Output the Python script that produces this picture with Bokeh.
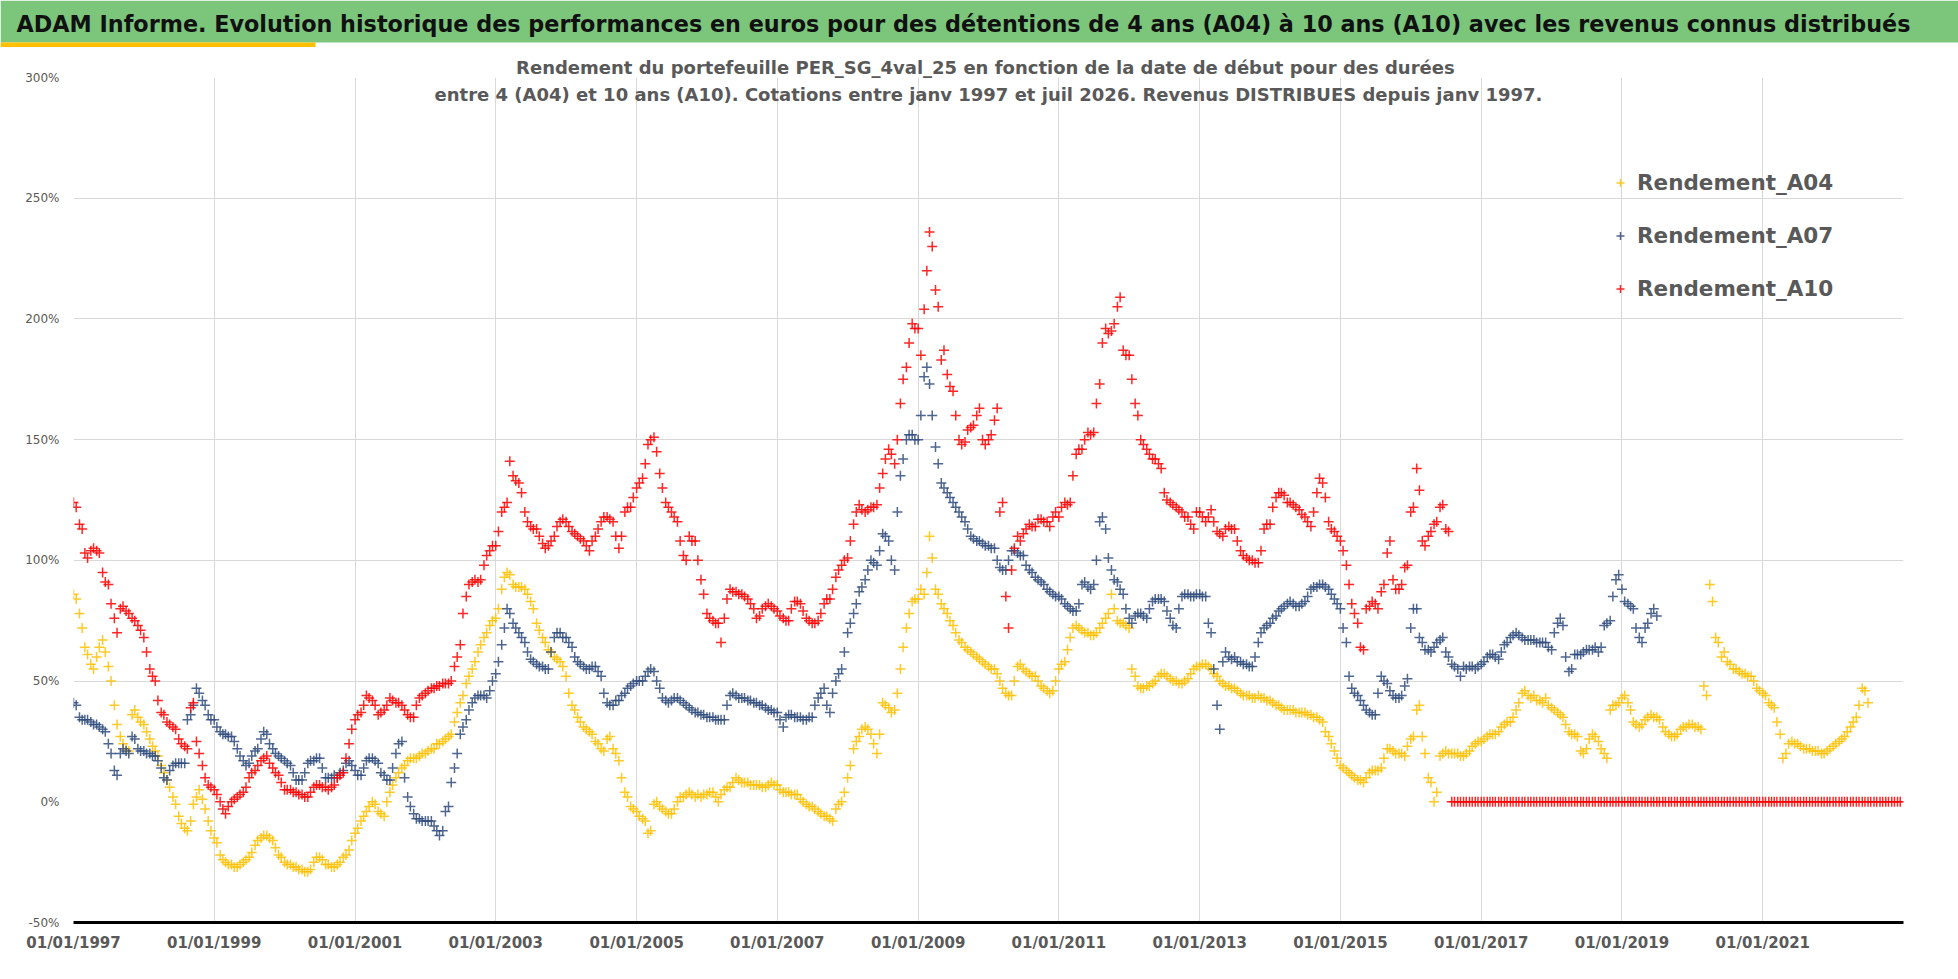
import pandas as pd
from bokeh.embed import file_html
from bokeh.layouts import column
from bokeh.models import (ColumnDataSource, FixedTicker, Label, Legend, LegendItem, Title,
                          PrintfTickFormatter, DatetimeTickFormatter, Range1d)
from bokeh.plotting import figure
from bokeh.resources import INLINE

TITLE = ("ADAM Informe. Evolution historique des performances en euros pour des détentions "
         "de 4 ans (A04) à 10 ans (A10) avec les revenus connus distribués")
SUBTITLE_1 = "Rendement du portefeuille PER_SG_4val_25  en fonction de la date de début pour des durées"
SUBTITLE_2 = ("entre 4 (A04) et 10 ans (A10). Cotations entre janv 1997 et juil 2026. "
              "Revenus DISTRIBUES depuis janv 1997.")

tick_dates = ["1997-01-01", "1999-01-01", "2001-01-01", "2003-01-01", "2005-01-01",
              "2007-01-01", "2009-01-01", "2011-01-01", "2013-01-01", "2015-01-01",
              "2017-01-01", "2019-01-01", "2021-01-01"]
tick_labels = ["01/01/1997", "01/01/1999", "01/01/2001", "01/01/2003", "01/01/2005",
               "01/01/2007", "01/01/2009", "01/01/2011", "01/01/2013", "01/01/2015",
               "01/01/2017", "01/01/2019", "01/01/2021"]
y_ticks = [-50, 0, 50, 100, 150, 200, 250, 300]

# returns in %, two readings per month (1st and 15th), starting january 1997
a04_start = "1997-01-01"
a04 = [
    86, 84, 78, 72, 64, 61, 57, 55, 60, 64, 67, 62, 56, 50, 40, 32, 27, 24, 22, 21, 36, 38, 35, 33,
    32, 29, 26, 23, 21, 19, 15, 12, 9, 6, 2, -1, -6, -9, -11, -12, -8, -1, 2, 5, 1, -3, -8, -12,
    -15, -17, -22, -24, -25, -26, -26, -27, -27, -26, -25, -24, -23, -21, -18, -16, -15, -14, -14, -15, -16, -19, -22, -23,
    -25, -26, -26, -27, -27, -28, -28, -29, -29, -28, -25, -23, -23, -24, -26, -26, -27, -27, -26, -25, -23, -22, -20, -16,
    -13, -11, -8, -6, -4, -2, 0, -1, -4, -5, -6, 0, 4, 7, 10, 12, 14, 15, 17, 18, 18, 18, 19, 20,
    20, 21, 22, 22, 24, 24, 25, 26, 27, 28, 33, 37, 41, 44, 49, 52, 55, 58, 62, 65, 68, 70, 73, 75,
    76, 80, 88, 93, 95, 94, 90, 89, 89, 89, 88, 86, 83, 80, 74, 71, 68, 66, 63, 62, 60, 59, 58, 56,
    52, 45, 40, 38, 35, 33, 31, 30, 29, 28, 25, 24, 22, 21, 26, 27, 22, 20, 17, 10, 4, 2, -2, -3,
    -4, -6, -7, -8, -13, -12, -1, 0, -2, -3, -4, -5, -5, -3, 0, 2, 2, 3, 4, 3, 2, 3, 2, 3,
    3, 4, 4, 2, 0, 3, 5, 6, 6, 8, 10, 9, 8, 8, 8, 7, 7, 7, 7, 6, 6, 7, 8, 7,
    7, 5, 4, 4, 4, 3, 3, 3, 1, 0, -1, -2, -2, -3, -4, -5, -6, -6, -7, -8, -3, -1, 0, 4,
    10, 15, 22, 25, 27, 30, 31, 30, 28, 24, 20, 28, 41, 40, 39, 37, 38, 45, 55, 64, 72, 78, 83, 84,
    84, 88, 86, 95, 110, 101, 88, 86, 82, 80, 78, 75, 73, 70, 67, 66, 64, 63, 62, 61, 60, 59, 58, 57,
    56, 55, 55, 53, 50, 47, 45, 44, 44, 50, 56, 57, 55, 54, 53, 52, 52, 50, 48, 47, 46, 45, 46, 50,
    55, 57, 58, 63, 68, 72, 73, 72, 71, 70, 70, 69, 69, 70, 72, 74, 76, 78, 86, 80, 75, 74, 74, 73,
    72, 55, 52, 48, 47, 47, 48, 48, 49, 50, 52, 53, 53, 52, 51, 50, 50, 49, 49, 50, 51, 53, 55, 56,
    56, 57, 57, 56, 55, 53, 52, 50, 49, 48, 48, 47, 47, 46, 45, 44, 44, 44, 43, 43, 44, 43, 43, 42,
    42, 41, 40, 40, 39, 38, 38, 38, 38, 37, 37, 37, 37, 36, 36, 35, 35, 34, 33, 29, 27, 24, 21, 18,
    15, 14, 13, 12, 11, 10, 9, 9, 8, 10, 12, 13, 13, 13, 14, 18, 22, 22, 21, 20, 20, 20, 19, 23,
    26, 27, 38, 40, 27, 20, 10, 8, 0, 4, 19, 20, 21, 20, 20, 20, 20, 19, 19, 20, 21, 23, 24, 25,
    25, 26, 27, 28, 28, 28, 29, 31, 32, 33, 33, 35, 38, 41, 45, 46, 44, 43, 44, 42, 42, 41, 43, 40,
    39, 38, 37, 36, 35, 32, 29, 28, 28, 27, 21, 20, 22, 26, 28, 27, 25, 22, 20, 18, 38, 40, 40, 41,
    43, 44, 41, 38, 33, 32, 31, 32, 34, 35, 36, 35, 35, 34, 31, 29, 28, 27, 27, 28, 30, 31, 31, 32,
    32, 31, 31, 30, 48, 44, 90, 83, 68, 66, 60, 62, 58, 57, 55, 55, 54, 53, 53, 52, 52, 50, 47, 46,
    45, 44, 41, 40, 39, 33, 28, 18, 20, 24, 25, 24, 24, 23, 22, 22, 22, 21, 21, 21, 20, 20, 21, 22,
    23, 24, 25, 26, 27, 29, 31, 33, 35, 40, 47, 46, 41,
]

a07_start = "1997-01-01"
a07 = [
    41, 40, 35, 34, 34, 34, 33, 32, 32, 31, 30, 29, 24, 20, 13, 11, 20, 22, 21, 20, 27, 26, 22, 21,
    21, 20, 20, 19, 19, 17, 14, 10, 9, 13, 15, 16, 16, 16, 16, 34, 36, 40, 47, 45, 42, 40, 36, 34,
    34, 31, 29, 28, 28, 27, 27, 25, 22, 19, 17, 15, 16, 19, 21, 22, 26, 29, 28, 24, 22, 20, 19, 18,
    17, 16, 15, 12, 9, 9, 9, 12, 16, 17, 17, 18, 18, 14, 10, 10, 10, 11, 10, 12, 13, 16, 17, 15,
    13, 11, 11, 14, 17, 18, 18, 17, 16, 12, 11, 9, 9, 14, 20, 24, 25, 10, 2, -2, -5, -7, -7, -8,
    -8, -8, -8, -10, -12, -14, -12, -4, -2, 8, 14, 20, 28, 31, 34, 38, 41, 43, 44, 44, 44, 43, 46, 50,
    53, 58, 65, 72, 80, 78, 74, 72, 70, 68, 66, 62, 59, 58, 57, 56, 56, 55, 55, 62, 68, 70, 70, 68,
    68, 66, 64, 60, 58, 57, 56, 55, 55, 56, 56, 54, 52, 45, 41, 40, 40, 42, 42, 44, 45, 47, 48, 49,
    50, 50, 50, 52, 54, 55, 54, 50, 47, 43, 42, 41, 42, 43, 43, 42, 41, 40, 39, 38, 37, 37, 36, 36,
    35, 35, 35, 34, 34, 34, 34, 40, 44, 45, 44, 43, 43, 43, 42, 42, 41, 41, 40, 40, 39, 38, 38, 37,
    37, 34, 31, 35, 36, 36, 35, 35, 35, 34, 34, 35, 35, 40, 43, 45, 47, 40, 37, 45, 50, 53, 55, 62,
    70, 74, 78, 82, 87, 89, 92, 96, 100, 99, 98, 104, 111, 110, 108, 100, 96, 120, 135, 142, 150, 152, 152, 150,
    150, 160, 176, 180, 173, 160, 147, 140, 132, 130, 128, 126, 124, 122, 120, 118, 116, 113, 110, 109, 108, 108, 107, 106,
    106, 105, 105, 100, 97, 96, 96, 100, 104, 104, 103, 102, 102, 98, 96, 95, 93, 92, 91, 90, 88, 87, 86, 85,
    85, 84, 82, 81, 80, 79, 79, 82, 90, 91, 89, 88, 90, 100, 116, 118, 113, 101, 96, 92, 91, 88, 86, 80,
    76, 74, 77, 78, 78, 77, 76, 80, 83, 84, 84, 84, 83, 79, 76, 73, 72, 80, 85, 86, 86, 85, 85, 86,
    86, 85, 85, 74, 70, 55, 40, 30, 58, 62, 60, 59, 60, 58, 58, 57, 57, 56, 56, 60, 66, 70, 72, 73,
    74, 76, 77, 79, 80, 81, 82, 83, 82, 81, 81, 82, 83, 85, 88, 89, 89, 90, 90, 89, 88, 86, 84, 82,
    80, 72, 66, 52, 47, 45, 44, 42, 40, 38, 37, 36, 36, 45, 52, 50, 49, 46, 44, 43, 43, 44, 48, 51,
    72, 80, 80, 68, 66, 63, 63, 62, 64, 66, 67, 68, 62, 60, 57, 56, 55, 52, 56, 55, 56, 56, 55, 56,
    57, 58, 60, 61, 61, 60, 59, 62, 65, 66, 68, 69, 70, 69, 68, 67, 67, 67, 67, 66, 66, 66, 66, 64,
    63, 70, 74, 76, 73, 60, 54, 55, 61, 61, 61, 62, 63, 63, 63, 64, 62, 64, 73, 74, 75, 85, 92, 94,
    88, 83, 82, 81, 80, 72, 68, 66, 72, 74, 78, 80, 77,
]

a10_start = "1997-01-01"
a10 = [
    124, 122, 115, 113, 103, 101, 104, 105, 104, 103, 95, 91, 90, 82, 76, 70, 80, 81, 79, 78, 76, 75, 73, 71,
    68, 62, 55, 52, 50, 42, 37, 36, 33, 32, 31, 30, 26, 24, 23, 22, 39, 41, 25, 20, 15, 10, 7, 6,
    5, 3, 0, -3, -5, -2, 0, 1, 2, 3, 4, 6, 10, 12, 13, 15, 17, 18, 19, 16, 14, 12, 11, 8,
    5, 5, 5, 4, 4, 3, 3, 2, 2, 4, 6, 7, 7, 6, 6, 5, 6, 7, 10, 11, 12, 18, 24, 30,
    34, 36, 37, 40, 44, 43, 42, 40, 36, 37, 38, 40, 43, 42, 41, 41, 40, 38, 36, 35, 35, 40, 43, 44,
    45, 46, 47, 47, 48, 48, 49, 49, 49, 50, 56, 60, 65, 78, 85, 90, 91, 92, 91, 92, 98, 102, 104, 106,
    106, 112, 120, 122, 124, 141, 135, 133, 132, 128, 120, 116, 114, 113, 113, 110, 107, 105, 106, 108, 110, 114, 116, 117,
    116, 114, 112, 111, 110, 109, 108, 106, 104, 108, 110, 113, 116, 118, 118, 117, 116, 110, 105, 110, 120, 122, 122, 126,
    130, 132, 134, 140, 148, 150, 151, 145, 136, 130, 124, 122, 120, 118, 116, 108, 102, 100, 110, 108, 108, 100, 92, 86,
    78, 76, 75, 74, 74, 66, 76, 84, 88, 87, 87, 86, 86, 85, 84, 82, 80, 76, 77, 80, 81, 82, 81, 80,
    79, 77, 76, 75, 75, 80, 83, 83, 82, 79, 76, 75, 74, 74, 75, 78, 82, 84, 84, 88, 93, 96, 98, 100,
    101, 108, 115, 120, 123, 121, 120, 121, 122, 122, 123, 130, 136, 142, 146, 144, 140, 150, 165, 175, 180, 190, 198, 196,
    196, 185, 204, 220, 236, 230, 212, 205, 183, 187, 177, 172, 170, 160, 150, 148, 149, 154, 155, 156, 160, 163, 150, 148,
    150, 152, 158, 163, 120, 124, 85, 72, 96, 105, 110, 108, 111, 113, 115, 114, 114, 117, 117, 116, 116, 114, 118, 120,
    118, 122, 124, 123, 124, 135, 144, 146, 146, 150, 153, 152, 153, 165, 173, 190, 196, 194, 195, 198, 205, 209, 187, 185,
    185, 175, 165, 160, 150, 148, 146, 144, 142, 142, 140, 138, 128, 125, 124, 123, 122, 121, 120, 118, 118, 115, 113, 120,
    120, 118, 116, 118, 121, 116, 112, 111, 110, 113, 114, 113, 113, 108, 104, 102, 101, 100, 100, 99, 99, 104, 113, 115,
    115, 122, 126, 128, 128, 127, 124, 124, 123, 122, 121, 119, 118, 116, 114, 120, 128, 134, 132, 126, 116, 113, 112, 110,
    108, 104, 98, 90, 82, 78, 74, 64, 63, 80, 81, 83, 82, 80, 87, 90, 103, 108, 92, 88, 88, 90, 97, 98,
    120, 122, 138, 129, 108, 106, 110, 112, 115, 116, 122, 123, 113, 112,
    # no 10-year horizon available any more: plotted at 0
    0, 0, 0, 0, 0, 0, 0, 0, 0, 0,
    0, 0, 0, 0, 0, 0, 0, 0, 0, 0, 0, 0, 0, 0, 0, 0, 0, 0, 0, 0, 0, 0, 0, 0,
    0, 0, 0, 0, 0, 0, 0, 0, 0, 0, 0, 0, 0, 0, 0, 0, 0, 0, 0, 0, 0, 0, 0, 0,
    0, 0, 0, 0, 0, 0, 0, 0, 0, 0, 0, 0, 0, 0, 0, 0, 0, 0, 0, 0, 0, 0, 0, 0,
    0, 0, 0, 0, 0, 0, 0, 0, 0, 0, 0, 0, 0, 0, 0, 0, 0, 0, 0, 0, 0, 0, 0, 0,
    0, 0, 0, 0, 0, 0, 0, 0, 0, 0, 0, 0, 0, 0, 0, 0, 0, 0, 0, 0, 0, 0, 0, 0,
    0, 0, 0, 0, 0, 0, 0, 0, 0, 0, 0, 0, 0, 0, 0, 0, 0, 0, 0, 0, 0, 0, 0, 0,
]

series = [
    ("Rendement_A04", a04_start, a04, "#ffc000"),
    ("Rendement_A07", a07_start, a07, "#2f4b7c"),
    ("Rendement_A10", a10_start, a10, "#ff0000"),
]

GREY = "#595959"
FONT = "DejaVu Sans"
W = 1958


def ms(d):
    return int(pd.Timestamp(d).timestamp() * 1000)


def band(height):
    f = figure(width=W, height=height, x_range=Range1d(0, W), y_range=Range1d(0, height),
               x_axis_location=None, y_axis_location=None, title_location=None,
               toolbar_location=None, output_backend="svg", min_border=0,
               outline_line_color=None, frame_align=False)
    f.grid.visible = False
    return f


# green title band with its yellow underline
head = band(47)
head.quad(left=0, right=W, bottom=5, top=47, fill_color="#7cc67c", line_color=None)
head.quad(left=0, right=315, bottom=0, top=5, fill_color="#ffc000", line_color=None)
head.add_layout(Label(x=16, y=24, text=TITLE, text_font=FONT, text_font_style="bold",
                      text_font_size="22.3px", text_color="#111111", text_baseline="middle"))

# chart
p = figure(frame_width=1830, frame_height=845,
           min_border_left=73, min_border_right=55, min_border_top=30, min_border_bottom=47,
           x_axis_type="datetime",
           x_range=Range1d(ms("1997-01-01"), ms("2023-01-01")),
           y_range=Range1d(-50, 300),
           toolbar_location=None, output_backend="svg", outline_line_color=None,
           frame_align=False)

p.title = Title(text=SUBTITLE_1, align="center", standoff=0, text_font=FONT,
                text_font_style="bold", text_font_size="18px", text_color=GREY)

tick_ms = [ms(d) for d in tick_dates]
p.xaxis.ticker = FixedTicker(ticks=tick_ms)
p.xaxis.formatter = DatetimeTickFormatter(years="%d/%m/%Y", months="%d/%m/%Y", days="%d/%m/%Y")
p.xaxis.major_label_overrides = dict(zip(tick_ms, tick_labels))
p.xaxis.axis_line_color = "black"
p.xaxis.axis_line_width = 3
p.xaxis.major_tick_line_color = None
p.xaxis.minor_tick_line_color = None
p.xaxis.major_tick_out = 0
p.xaxis.minor_tick_out = 0
p.xaxis.major_label_text_font = FONT
p.xaxis.major_label_text_font_style = "bold"
p.xaxis.major_label_text_font_size = "15px"
p.xaxis.major_label_text_color = GREY
p.xaxis.major_label_standoff = 11

p.yaxis.ticker = FixedTicker(ticks=y_ticks)
p.yaxis.formatter = PrintfTickFormatter(format="%d%%")
p.yaxis.axis_line_color = None
p.yaxis.major_tick_line_color = None
p.yaxis.minor_tick_line_color = None
p.yaxis.major_tick_out = 0
p.yaxis.minor_tick_out = 0
p.yaxis.major_label_text_font = FONT
p.yaxis.major_label_text_font_size = "12px"
p.yaxis.major_label_text_color = GREY
p.yaxis.major_label_standoff = 14

p.xgrid.ticker = FixedTicker(ticks=tick_ms)
p.ygrid.ticker = FixedTicker(ticks=[50, 100, 150, 200, 250, 300])
p.grid.grid_line_color = "#d9d9d9"
p.grid.grid_line_width = 1

items = []
for name, start, values, color in series:
    src = ColumnDataSource(dict(date=pd.date_range(start, periods=len(values), freq="SMS"),
                                value=values))
    r = p.scatter("date", "value", source=src, marker="cross", size=10,
                  line_color=color, line_width=1.5, line_alpha=0.85)
    items.append(LegendItem(label=name, renderers=[r]))

legend = Legend(items=items, location=(1537, 620), orientation="vertical",
                glyph_width=20, glyph_height=27, label_height=27, spacing=26,
                label_standoff=7, padding=0, margin=0,
                border_line_color=None, background_fill_alpha=0,
                label_text_font=FONT, label_text_font_style="bold",
                label_text_font_size="21.5px", label_text_color=GREY)
p.add_layout(legend)

p.add_layout(Label(x=ms("2010-01-01"), y=293.0, text=SUBTITLE_2, text_font=FONT,
                   text_font_style="bold", text_font_size="18px", text_color=GREY,
                   text_align="center", text_baseline="middle"))

# yellow accent at the bottom left
foot = band(8)
foot.quad(left=0, right=315, bottom=0, top=4, fill_color="#ffc000", line_color=None)

page = column(head, p, foot, spacing=0)
open("out.html", "w", encoding="utf-8").write(file_html(page, INLINE))
